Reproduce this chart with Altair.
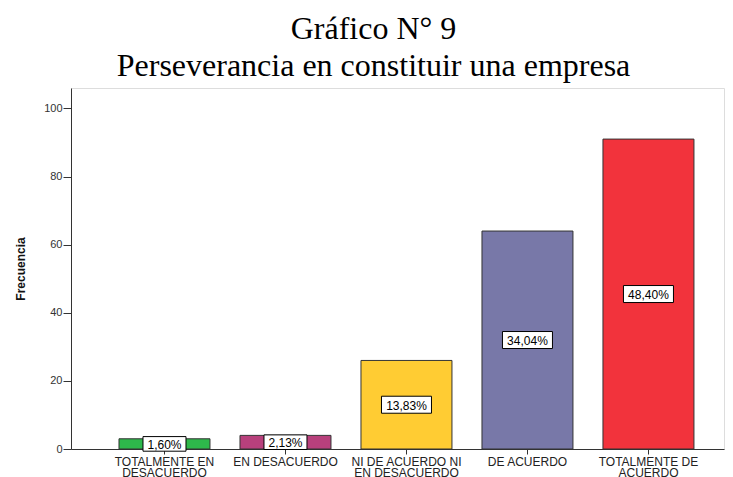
import altair as alt
import pandas as pd

categories = ["TOTALMENTE EN|DESACUERDO", "EN DESACUERDO", "NI DE ACUERDO NI|EN DESACUERDO",
              "DE ACUERDO", "TOTALMENTE DE|ACUERDO"]
counts = [3, 4, 26, 64, 91]
pct_labels = ["1,60%", "2,13%", "13,83%", "34,04%", "48,40%"]
colors = ["#2EB84B", "#B8407C", "#FFCC33", "#7878A8", "#F2333C"]
y_ticks = [0, 20, 40, 60, 80, 100]

df = pd.DataFrame({"cat": categories, "n": counts, "lab": pct_labels})

x = alt.X("cat:N", sort=categories,
          scale=alt.Scale(paddingInner=0.248, paddingOuter=0.3225, align=0.615),
          axis=alt.Axis(title=None, labelAngle=0, labelExpr="split(datum.label, '|')",
                        labelFont="Liberation Sans", labelFontSize=12, labelColor="#222",
                        labelLineHeight=11, labelPadding=2, tickSize=5, tickColor="#333",
                        domainColor="#333", labelBaseline="top"))

base = alt.Chart(df)

bars = base.mark_bar(stroke="#333", strokeWidth=1).encode(
    x=x,
    y=alt.Y("n:Q", scale=alt.Scale(domain=[0, 106], nice=False),
            axis=alt.Axis(values=y_ticks, grid=False, title="Frecuencia",
                          titleFont="Liberation Sans", titleFontSize=12, titleFontWeight="bold",
                          titleColor="#111", titlePadding=16,
                          labelFont="Liberation Sans", labelFontSize=11, labelColor="#333",
                          labelPadding=1, tickSize=8, tickColor="#333", domainColor="#333")),
    color=alt.Color("cat:N", sort=categories, scale=alt.Scale(domain=categories, range=colors),
                    legend=None),
)

boxes = base.transform_calculate(
    mid="datum.n / 2",
    bw="pow(7 * length(datum.lab) + 8, 2)",
).mark_point(shape="M-1,-0.34L1,-0.34L1,0.34L-1,0.34Z", filled=True, fill="white",
             stroke="black", strokeWidth=1, opacity=1).encode(
    x=alt.X("cat:N", sort=categories),
    y=alt.Y("mid:Q"),
    size=alt.Size("bw:Q", scale=None, legend=None),
)

texts = base.transform_calculate(mid="datum.n / 2").mark_text(
    font="Liberation Sans", fontSize=12, color="black", baseline="middle", align="center", dy=1
).encode(
    x=alt.X("cat:N", sort=categories),
    y=alt.Y("mid:Q"),
    text="lab:N",
)

chart = alt.layer(bars, boxes, texts).properties(
    width=653, height=361,
    autosize=alt.AutoSizeParams(type="none"),
    padding={"left": 63, "top": 80, "right": 1, "bottom": 28},
    title=alt.TitleParams(
        text=["Gráfico N° 9", "Perseverancia en constituir una empresa"],
        font="Liberation Serif", fontSize=32, fontWeight="normal", color="black",
        anchor="middle", frame="group", dx=-24, lineHeight=37, offset=5,
    ),
).configure_view(fill="#F0F0F0", stroke="#777", strokeWidth=1).configure(background="white")

chart.save("out.html", embed_options={"renderer": "svg", "actions": False})
